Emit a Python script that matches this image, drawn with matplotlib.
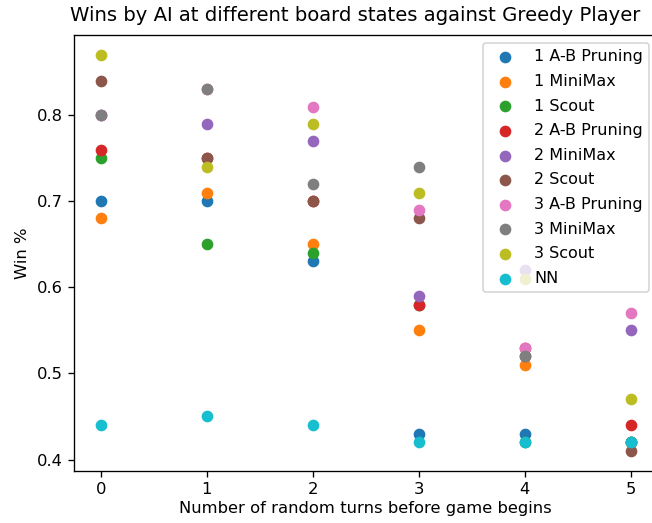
import numpy as np
import matplotlib
matplotlib.use("Agg")
import matplotlib.pyplot as plt

turns = [0, 1, 2, 3, 4, 5]

ab1 = [0.70, 0.70, 0.63, 0.43, 0.43, 0.42]
minimax1 = [0.68, 0.71, 0.65, 0.55, 0.51, 0.42]
scout1 = [0.75, 0.65, 0.64, 0.58, 0.42, 0.42]
ab2 = [0.76, 0.75, 0.70, 0.58, 0.53, 0.44]
minimax2 = [0.80, 0.79, 0.77, 0.59, 0.62, 0.55]
scout2 = [0.84, 0.75, 0.70, 0.68, 0.52, 0.41]
ab3 = [0.80, 0.83, 0.81, 0.69, 0.53, 0.57]
minimax3 = [0.80, 0.83, 0.72, 0.74, 0.52, 0.42]
scout3 = [0.87, 0.74, 0.79, 0.71, 0.61, 0.47]
nn = [0.44, 0.45, 0.44, 0.42, 0.42, 0.42]

series = [ab1, minimax1, scout1, ab2, minimax2, scout2, ab3, minimax3, scout3, nn]
labels = ['1 A-B Pruning', '1 MiniMax', '1 Scout',
          '2 A-B Pruning', '2 MiniMax', '2 Scout',
          '3 A-B Pruning', '3 MiniMax', '3 Scout', 'NN']

dpi = 120
fig = plt.figure(figsize=(652 / dpi, 523 / dpi), dpi=dpi)
ax = fig.add_axes([0.114, 0.1, 0.894, 0.833])

for vals, lab in zip(series, labels):
    ax.scatter(turns, vals, label=lab, s=36)

ax.set_title('Wins by AI at different board states against Greedy Player',
             fontsize=11.8, x=0.481, pad=8.5)
ax.set_xlabel('Number of random turns before game begins', fontsize=9.8, labelpad=2)
ax.set_ylabel('Win %', fontsize=9.8)
ax.tick_params(labelsize=9.8)
ax.legend(loc='upper right', fontsize=9.6, labelspacing=0.6)

fig.savefig('out.png', dpi=dpi)
